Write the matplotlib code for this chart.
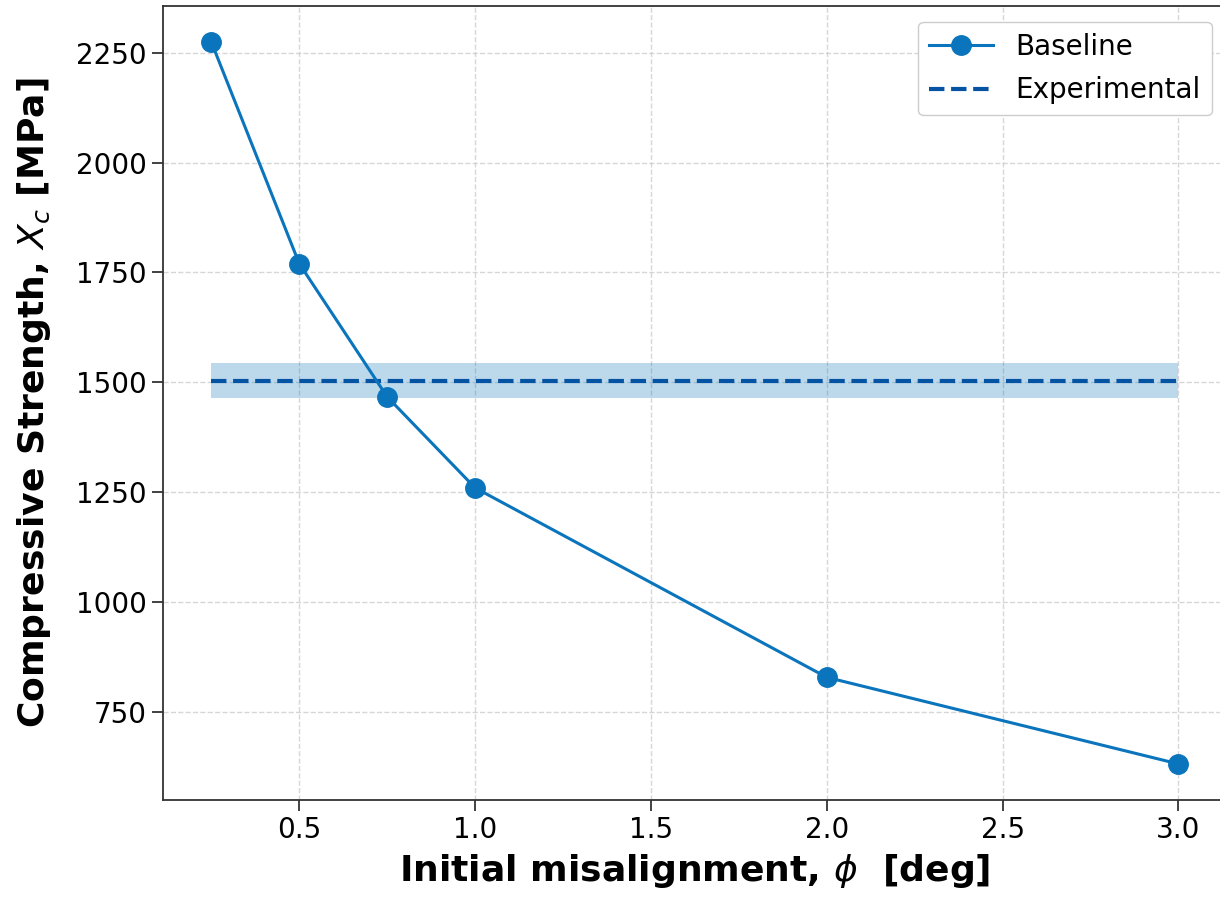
import numpy as np
import matplotlib.pyplot as plt

# misalignment angles (deg) and predicted compressive strength (MPa)
phi = [0.25, 0.5, 0.75, 1.0, 2.0, 3.0]
xc = [2274, 1770, 1467, 1260, 829, 632]

# experimental value and scatter band
xc_exp = 1504
xc_exp_lo = 1465
xc_exp_hi = 1543

line_col = '#0a75bc'
exp_col = '#0553a3'

fig = plt.figure(figsize=(12.2, 8.97), dpi=100)
ax = fig.add_axes([0.1336, 0.1081, 0.872, 0.8852])

ax.fill_between([phi[0], phi[-1]], xc_exp_lo, xc_exp_hi, color=line_col, alpha=0.27, lw=0)
ax.plot(phi, xc, '-o', color=line_col, lw=2.2, ms=14, label='Baseline', zorder=3)
ax.plot([phi[0], phi[-1]], [xc_exp, xc_exp], '--', color=exp_col, lw=3, label='Experimental', zorder=2)

ax.set_xlabel(r'Initial misalignment, $\phi$  [deg]', fontsize=26, fontweight='bold', labelpad=6)
ax.set_ylabel(r'Compressive Strength, $X_c$ [MPa]', fontsize=26, fontweight='bold', labelpad=17)
ax.set_yticks([750, 1000, 1250, 1500, 1750, 2000, 2250])
ax.set_xticks([0.5, 1.0, 1.5, 2.0, 2.5, 3.0])
ax.tick_params(labelsize=20, length=8, width=1.3, color='#333333')
ax.grid(True, ls='--', color='#cccccc', lw=1, alpha=0.8)
ax.set_axisbelow(True)
for s in ax.spines.values():
    s.set_color('#333333')
    s.set_linewidth(1.3)
ax.spines['right'].set_visible(False)

ax.legend(loc='upper right', fontsize=20, framealpha=1, edgecolor='#cccccc',
          handlelength=2.3, labelspacing=0.55, borderaxespad=0,
          bbox_to_anchor=(0.986, 0.980))

plt.savefig('out.png', dpi=100)
